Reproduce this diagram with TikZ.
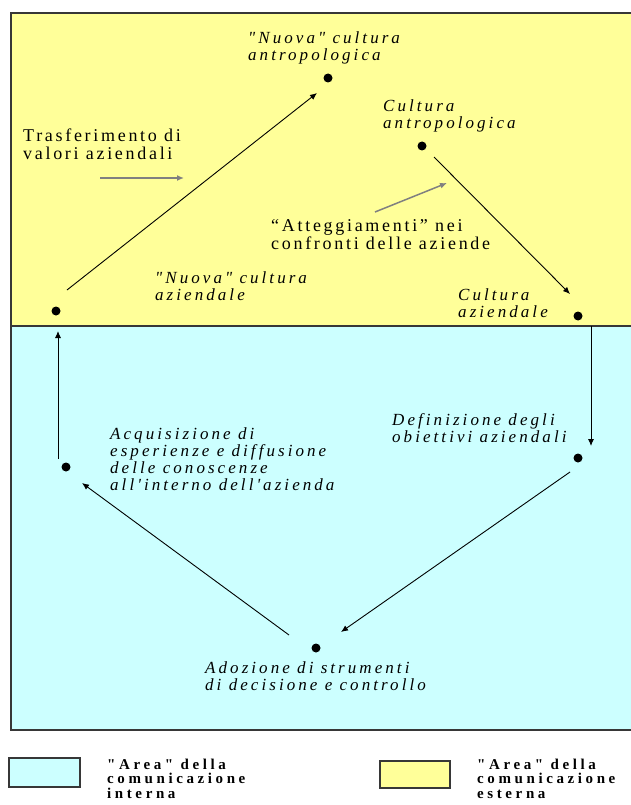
\documentclass[tikz,border=0pt]{standalone}
\usepackage{fontspec}
\setmainfont{Liberation Serif}
\newfontfamily\labfont[LetterSpace=18]{Liberation Serif}
\newfontfamily\upfont[LetterSpace=15]{Liberation Serif}
\newfontfamily\legfont[LetterSpace=24]{Liberation Serif}
\usetikzlibrary{arrows.meta}
\definecolor{yel}{RGB}{255,255,153}
\definecolor{cya}{RGB}{204,255,255}
\definecolor{frm}{RGB}{55,55,55}
\definecolor{grayarr}{RGB}{128,128,128}
\tikzset{
  lab/.style={font=\labfont\itshape\fontsize{17}{17}\selectfont, anchor=base west, inner sep=0pt, align=left},
  uplab/.style={font=\upfont\fontsize{18}{18}\selectfont, anchor=base west, inner sep=0pt, align=left},
  leglab/.style={font=\legfont\bfseries\fontsize{15}{14.5}\selectfont, anchor=base west, inner sep=0pt, align=left},
  dot/.style={circle, fill=black, inner sep=0pt, minimum size=9pt},
  conn/.style={line width=0.9pt, -{Latex[length=7pt,width=6pt]}},
  gconn/.style={line width=1.5pt, grayarr, -{Latex[length=7pt,width=6pt]}},
  frame/.style={draw=frm, line width=2pt}
}
\begin{document}
\begin{tikzpicture}[x=1pt,y=-1pt]
\useasboundingbox (0,0) rectangle (630,805);
% areas
\fill[yel] (11,13) rectangle (640,326);
\fill[cya] (11,326) rectangle (640,730);
\draw[frame] (11,13) rectangle (640,730);
\draw[frame] (11,326) -- (640,326);

% dots
\node[dot] (nant) at (328,78) {};
\node[dot] (cant) at (422,146) {};
\node[dot] (naz) at (56,311) {};
\node[dot] (caz) at (578,316) {};
\node[dot] (def) at (578,458) {};
\node[dot] (acq) at (66,467) {};
\node[dot] (ado) at (316,648) {};

% connector end points
\coordinate (a1s) at (67,290);  \coordinate (a1e) at (317,93);
\coordinate (a2s) at (434,157); \coordinate (a2e) at (570,294);
\coordinate (a3s) at (591,326); \coordinate (a3e) at (591,446);
\coordinate (a4s) at (570,472); \coordinate (a4e) at (341,632);
\coordinate (a5s) at (289,635); \coordinate (a5e) at (82,483);
\coordinate (a6s) at (58,459);  \coordinate (a6e) at (58,331);
\coordinate (g1s) at (100,178); \coordinate (g1e) at (184,178);
\coordinate (g2s) at (375,212); \coordinate (g2e) at (447,183);

\draw[conn] (a1s) -- (a1e);
\draw[conn] (a2s) -- (a2e);
\draw[conn] (a3s) -- (a3e);
\draw[conn] (a4s) -- (a4e);
\draw[conn] (a5s) -- (a5e);
\draw[conn] (a6s) -- (a6e);
\draw[gconn] (g1s) -- (g1e);
\draw[gconn] (g2s) -- (g2e);

% labels (anchor = baseline of last line)
\node[lab] (tnant) at (248,61) {"Nuova" cultura\\antropologica};
\node[uplab] (ttrasf) at (23,160) {Trasferimento di\\valori aziendali};
\node[lab] (tcant) at (383,129) {Cultura\\antropologica};
\node[uplab] (tatt) at (271,249) {“Atteggiamenti” nei\\confronti delle aziende};
\node[lab] (tnaz) at (155,300) {"Nuova" cultura\\aziendale};
\node[lab] (tcaz) at (458,317) {Cultura\\aziendale};
\node[lab] (tdef) at (392,442) {Definizione degli\\obiettivi aziendali};
\node[lab] (tacq) at (110,490) {Acquisizione di\\esperienze e diffusione\\delle conoscenze\\all'interno dell'azienda};
\node[lab] (tado) at (205,690) {Adozione di strumenti\\di decisione e controllo};

% legend
\draw[frame, fill=cya] (9,758) rectangle (80,787);
\draw[frame, fill=yel] (380,761) rectangle (450,788);
\node[leglab] (lint) at (107,798) {"Area" della\\comunicazione\\interna};
\node[leglab] (lest) at (477,798) {"Area" della\\comunicazione\\esterna};
\end{tikzpicture}
\end{document}
